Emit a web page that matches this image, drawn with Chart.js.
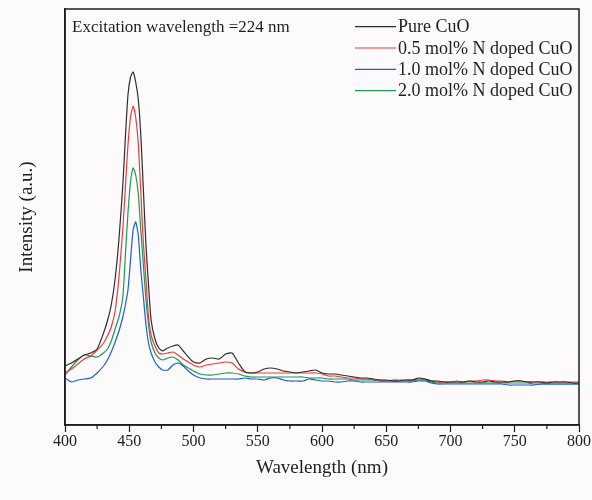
<!DOCTYPE html>
<html>
<head>
<meta charset="utf-8">
<script src="https://cdn.jsdelivr.net/npm/chart.js@4"></script>
<style>
  html, body { margin: 0; padding: 0; background: #fcfafa; }
  #graphique-pl { display: block; }
</style>
</head>
<body>
<canvas id="graphique-pl" width="592" height="500"></canvas>
<script>
// longueurs d'onde (nm) communes aux 4 spectres
const longueursOnde = [
  400, 405, 410, 415, 420, 425, 430, 433, 436, 439, 442, 445, 447, 449, 451, 453,
  455, 457, 459, 461, 463, 465, 467, 470, 473, 476, 480, 484, 488, 492, 496, 500,
  505, 510, 515, 520, 525, 530, 535, 540, 545, 550, 555, 560, 565, 570, 575, 580,
  585, 590, 595, 600, 605, 610, 615, 620, 625, 630, 635, 640, 645, 650, 655, 660,
  665, 670, 675, 680, 685, 690, 695, 700, 705, 710, 715, 720, 725, 730, 735, 740,
  745, 750, 755, 760, 765, 770, 775, 780, 785, 790, 795, 800
];

// intensites (u.a.)
const pureCuO = [
  59, 62, 66, 70, 72, 76, 92, 104, 120, 146, 186, 240, 288, 330, 348, 353,
  343, 326, 290, 235, 180, 140, 105, 86, 77, 74, 77, 79, 80, 74, 68, 63,
  62, 66, 67, 66, 71, 72, 62, 53, 52, 53, 56, 57, 56, 54, 53, 52,
  53, 54, 55, 52, 51, 51, 50, 49, 48, 47, 47, 46, 45, 45, 44, 44,
  45, 45, 47, 46, 44, 44, 43, 43, 43, 43, 44, 43, 43, 44, 43, 43,
  43, 44, 44, 43, 43, 43, 42, 43, 43, 43, 42, 42
];
const dope05 = [
  52, 56, 61, 66, 69, 75, 82, 89, 98, 114, 148, 196, 238, 280, 308, 319,
  308, 282, 232, 182, 145, 108, 90, 79, 72, 71, 72, 73, 70, 66, 63, 60,
  58, 60, 61, 62, 63, 62, 56, 53, 52, 52, 52, 52, 52, 52, 52, 52,
  52, 52, 52, 51, 49, 49, 48, 47, 47, 46, 46, 45, 45, 44, 45, 45,
  45, 45, 46, 46, 44, 43, 43, 43, 44, 43, 44, 44, 45, 45, 44, 44,
  43, 44, 44, 43, 43, 43, 43, 43, 43, 43, 43, 43
];
const dope10 = [
  47, 43, 45, 46, 47, 52, 59, 65, 73, 83, 94, 108, 120, 135, 165, 195,
  203, 190, 155, 128, 100, 82, 72, 63, 58, 55, 55, 60, 62, 59, 54, 50,
  47, 46, 46, 46, 46, 46, 46, 47, 46, 46, 45, 47, 47, 45, 44, 44,
  44, 46, 45, 44, 44, 43, 43, 44, 44, 43, 43, 43, 43, 43, 43, 43,
  43, 43, 44, 44, 42, 41, 41, 41, 41, 41, 41, 41, 41, 41, 41, 41,
  40, 40, 40, 40, 40, 41, 41, 41, 41, 41, 41, 41
];
const dope20 = [
  50, 58, 65, 70, 69, 68, 72, 76, 84, 96, 108, 128, 170, 212, 243, 257,
  250, 232, 195, 160, 125, 100, 83, 72, 67, 65, 67, 68, 65, 60, 57, 54,
  51, 50, 50, 51, 52, 52, 51, 49, 48, 48, 48, 48, 48, 48, 48, 48,
  48, 47, 47, 47, 46, 46, 46, 46, 45, 45, 45, 45, 44, 44, 44, 44,
  44, 44, 45, 45, 43, 42, 42, 42, 42, 42, 42, 42, 42, 42, 42, 42,
  42, 42, 42, 42, 41, 41, 41, 41, 41, 41, 41, 41
];

const noms = ["Pure CuO", "0.5 mol% N doped CuO", "1.0 mol% N doped CuO", "2.0 mol% N doped CuO"];
const couleurs = ["#2e2e2e", "#f03a3a", "#1d5fd6", "#1c9950"];
const graduations = [400, 450, 500, 550, 600, 650, 700, 750, 800];

const police = "'Liberation Serif', 'Times New Roman', serif";
const encre = "#1e1e1e";

function serie(valeurs) {
  return longueursOnde.map((x, i) => ({ x: x, y: valeurs[i] }));
}

// cadre, petites graduations, legende et note d'excitation
const decor = {
  id: "decor",
  afterDraw(chart) {
    const ctx = chart.ctx;
    const a = chart.chartArea;
    const sx = chart.scales.x;
    ctx.save();
    ctx.strokeStyle = encre;
    ctx.lineWidth = 1.5;
    ctx.strokeRect(a.left, a.top, a.right - a.left, a.bottom - a.top);
    // graduations mineures
    ctx.lineWidth = 1.2;
    for (let i = 0; i < graduations.length - 1; i++) {
      const px = sx.getPixelForValue((graduations[i] + graduations[i + 1]) / 2);
      ctx.beginPath();
      ctx.moveTo(px, a.bottom);
      ctx.lineTo(px, a.bottom + 4);
      ctx.stroke();
    }
    // note
    ctx.fillStyle = encre;
    ctx.font = "17px " + police;
    ctx.textBaseline = "middle";
    ctx.textAlign = "left";
    ctx.fillText("Excitation wavelength =224 nm", 72, 27.5);
    // legende
    ctx.font = "18px " + police;
    chart.data.datasets.forEach((ds, i) => {
      const y = 26.7 + i * 21.3;
      ctx.strokeStyle = ds.borderColor;
      ctx.lineWidth = 1.2;
      ctx.beginPath();
      ctx.moveTo(355, y);
      ctx.lineTo(396, y);
      ctx.stroke();
      ctx.fillText(ds.label, 398, y + 1);
    });
    ctx.restore();
  },
};

const config = {
  type: "line",
  data: {
    datasets: [pureCuO, dope05, dope10, dope20].map((v, i) => ({
      label: noms[i],
      data: serie(v),
      borderColor: couleurs[i],
      borderWidth: 1.2,
      pointRadius: 0,
      tension: 0.2,
      fill: false,
    })),
  },
  options: {
    responsive: false,
    animation: false,
    layout: { padding: { top: 9, right: 13, left: 0, bottom: 0 } },
    plugins: { legend: { display: false }, tooltip: { enabled: false } },
    scales: {
      x: {
        type: "linear",
        min: 400,
        max: 800,
        afterBuildTicks(scale) {
          scale.ticks = graduations.map((v) => ({ value: v }));
        },
        afterFit(scale) { scale.height = 75; },
        ticks: {
          color: encre,
          padding: 0,
          maxRotation: 0,
          font: { family: police, size: 16 },
        },
        grid: { drawOnChartArea: false, tickLength: 7, tickColor: encre, tickWidth: 1.2 },
        border: { color: encre, width: 1.5 },
        title: {
          display: true,
          text: "Wavelength (nm)",
          color: encre,
          font: { family: police, size: 19 },
          padding: { top: 0, bottom: 21 },
        },
      },
      y: {
        min: 0,
        max: 416,
        afterFit(scale) { scale.width = 65; },
        ticks: { display: false },
        grid: { display: false },
        border: { color: encre, width: 1.5 },
        title: {
          display: true,
          text: "Intensity (a.u.)",
          color: encre,
          font: { family: police, size: 19 },
          padding: { top: 16, bottom: 0 },
        },
      },
    },
  },
  plugins: [decor],
};

new Chart(document.querySelector("#graphique-pl"), config);
</script>
</body>
</html>
